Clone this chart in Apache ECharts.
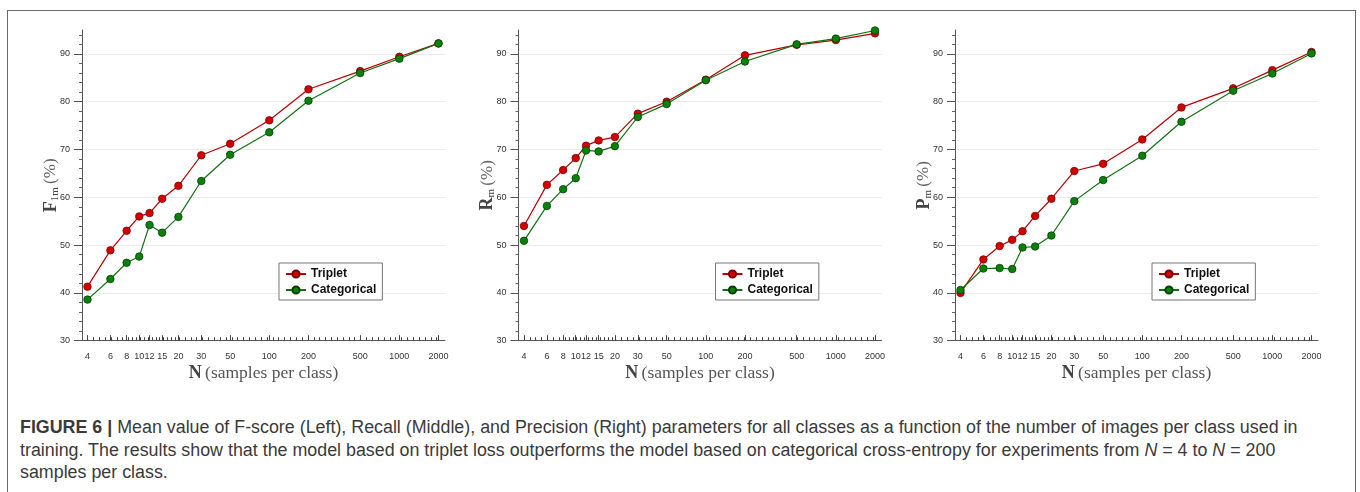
<!DOCTYPE html>
<html>
<head>
<meta charset="utf-8">
<script src="https://cdn.jsdelivr.net/npm/echarts@6/dist/echarts.min.js"></script>
<style>
  html, body { margin: 0; padding: 0; background: #fff; }
  #frame { position: absolute; left: 7px; top: 10px; width: 1347px; height: 520px; border: 1.5px solid #6a6a6a; }
  #chart { position: absolute; left: 0; top: 0; width: 1360px; height: 400px; }
  #caption { position: absolute; left: 20px; top: 416px; font: 17.85px/22.5px "Liberation Sans", Arial, sans-serif; color: #3a3a3a; white-space: nowrap; }
</style>
</head>
<body>
<div id="frame"></div>
<div id="chart"></div>
<div id="caption"><b>FIGURE 6 |</b> Mean value of F-score (Left), Recall (Middle), and Precision (Right) parameters for all classes as a function of the number of images per class used in<br>training. The results show that the model based on triplet loss outperforms the model based on categorical cross-entropy for experiments from <i>N</i> = 4 to <i>N</i> = 200<br>samples per class.</div>
<script>
// samples per class (x) - also used as the tick labels
const sampleSizes = [4, 6, 8, 10, 12, 15, 20, 30, 50, 100, 200, 500, 1000, 2000];
const yTicks = [30, 40, 50, 60, 70, 80, 90];

// F-score
const f1Triplet = [41.3, 48.9, 53.0, 56.0, 56.7, 59.7, 62.4, 68.8, 71.2, 76.1, 82.6, 86.4, 89.4, 92.2];
const f1Categorical = [38.6, 42.9, 46.3, 47.6, 54.2, 52.6, 55.9, 63.4, 68.9, 73.6, 80.2, 86.0, 89.0, 92.2];
// Recall
const recTriplet = [54.0, 62.6, 65.7, 68.2, 70.8, 71.9, 72.6, 77.5, 80.0, 84.6, 89.7, 91.9, 92.9, 94.3];
const recCategorical = [50.9, 58.2, 61.7, 64.0, 69.8, 69.6, 70.7, 76.8, 79.5, 84.5, 88.4, 92.0, 93.2, 94.9];
// Precision
const precTriplet = [40.0, 47.0, 49.8, 51.1, 52.9, 56.1, 59.7, 65.5, 67.0, 72.1, 78.8, 82.8, 86.6, 90.4];
const precCategorical = [40.6, 45.1, 45.2, 45.0, 49.5, 49.7, 52.0, 59.2, 63.6, 68.7, 75.8, 82.3, 85.9, 90.1];

const panels = [
  { name: '{b|F}{s|1m} {p|(%)}', triplet: f1Triplet, categorical: f1Categorical },
  { name: '{b|R}{s|m} {p|(%)}', triplet: recTriplet, categorical: recCategorical },
  { name: '{b|P}{s|m} {p|(%)}', triplet: precTriplet, categorical: precCategorical }
];

const gridLefts = [82, 518.5, 955];
const xMin = 3.63, xMax = 2244;

// small tick marks on the log axis, evenly spaced in log space (denser around 8-20)
const minorTicks = [];
for (let e = Math.log10(4); e <= Math.log10(2000) + 1e-9; ) {
  const v = Math.pow(10, e);
  minorTicks.push(Math.round(v * 100) / 100);
  e += (v >= 8 && v < 20) ? 0.03 : 0.045;
}

const pair = (vals) => sampleSizes.map((x, i) => [x, vals[i]]);

const axisColor = '#555';
const serif = '"Liberation Serif", "DejaVu Serif", serif';

const grid = [], xAxis = [], yAxis = [], series = [], legend = [];

panels.forEach((p, i) => {
  grid.push({ left: gridLefts[i], top: 30, width: 363, height: 310.7 });

  xAxis.push({
    type: 'log', gridIndex: i, min: xMin, max: xMax, position: 'bottom',
    axisLine: { lineStyle: { color: axisColor, width: 1 } },
    axisTick: { inside: true, length: 5.5, customValues: sampleSizes, lineStyle: { color: '#444', width: 1 } },
    axisLabel: {
      customValues: sampleSizes, formatter: (v) => String(Math.round(v)),
      fontSize: 9, color: '#333', margin: 11, fontFamily: 'Liberation Sans'
    },
    splitLine: { show: false },
    name: '{n|N} {t|(samples per class)}',
    nameLocation: 'middle', nameGap: 24, nameMoveOverlap: false,
    nameTextStyle: {
      rich: {
        n: { fontFamily: serif, fontSize: 18, fontWeight: 'bold', color: '#444' },
        t: { fontFamily: serif, fontSize: 17.5, color: '#555' }
      }
    }
  });

  yAxis.push({
    type: 'value', gridIndex: i, min: 30, max: 95, interval: 10,
    axisLine: { show: true, lineStyle: { color: axisColor, width: 1 } },
    axisTick: { show: true, length: 8, customValues: yTicks, lineStyle: { color: axisColor } },
    minorTick: { show: true, splitNumber: 5, length: 3, lineStyle: { color: '#666' } },
    axisLabel: { customValues: yTicks, fontSize: 9, color: '#333', margin: 12, fontFamily: 'Liberation Sans' },
    splitLine: { show: true, lineStyle: { color: '#ebebeb', width: 1 } },
    name: p.name, nameLocation: 'middle', nameGap: 21, nameRotate: 90, nameMoveOverlap: false,
    nameTextStyle: {
      rich: {
        b: { fontFamily: serif, fontSize: 18, fontWeight: 'bold', color: '#444', lineHeight: 20 },
        s: { fontFamily: serif, fontSize: 11, color: '#444', padding: [8, 0, 0, 0] },
        p: { fontFamily: serif, fontSize: 17, color: '#666', lineHeight: 20 }
      }
    }
  });

  series.push({
    name: 'Triplet', type: 'line', xAxisIndex: i, yAxisIndex: i,
    data: pair(p.triplet), symbol: 'circle', symbolSize: 7.5,
    itemStyle: { color: '#d40000', borderColor: '#7a0000', borderWidth: 0.8 },
    lineStyle: { color: '#b80000', width: 1.2 }, z: 3
  });
  series.push({
    name: 'Categorical', type: 'line', xAxisIndex: i, yAxisIndex: i,
    data: pair(p.categorical), symbol: 'circle', symbolSize: 7.5,
    itemStyle: { color: '#0b800b', borderColor: '#034003', borderWidth: 0.8 },
    lineStyle: { color: '#137013', width: 1.2 }, z: 4
  });

  legend.push({
    data: ['Triplet', 'Categorical'], orient: 'vertical',
    left: gridLefts[i] + 197, top: 263,
    backgroundColor: '#fff', borderColor: '#777', borderWidth: 1,
    padding: [5, 6, 4, 6], itemWidth: 20, itemHeight: 9, itemGap: 4,
    textStyle: { fontSize: 12, fontWeight: 'bold', color: '#111', fontFamily: 'Liberation Sans' }
  });
});

// second log axis per grid carrying only the small ticks, sharing the bottom line
panels.forEach((p, i) => {
  xAxis.push({
    type: 'log', gridIndex: i, min: xMin, max: xMax, position: 'bottom',
    axisLine: { show: false, onZero: false },
    axisTick: { show: true, inside: true, length: 3.5, customValues: minorTicks, lineStyle: { color: '#444', width: 1 } },
    axisLabel: { show: false },
    splitLine: { show: false }
  });
});

const chart = echarts.init(document.getElementById('chart'));
chart.setOption({
  animation: false,
  grid, xAxis, yAxis, series, legend
});
</script>
</body>
</html>
